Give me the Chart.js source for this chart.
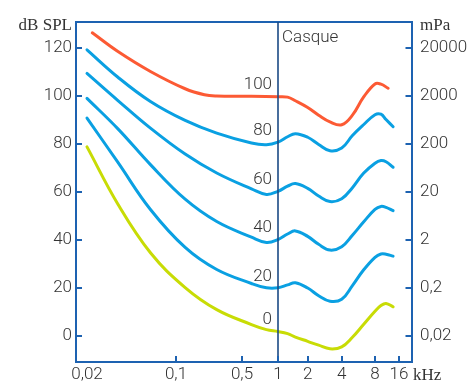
<!DOCTYPE html>
<html><head><meta charset="utf-8">
<script src="https://cdn.jsdelivr.net/npm/chart.js@4"></script>
<style>html,body{margin:0;padding:0;background:#fff}canvas{display:block}</style>
</head><body>
<canvas id="c" width="470" height="383"></canvas>
<script>
// ---------- data ----------
const FREQS = [0.02, 0.035, 0.063, 0.125, 0.27, 0.6, 0.8, 1, 1.25, 1.5, 2, 2.5, 3.15, 4, 5, 6.3, 8, 9.5, 11, 13.5];
const FREQS_100 = [0.022, 0.035, 0.063, 0.125, 0.2, 0.27, 0.6, 1, 1.25, 1.5, 2, 2.5, 3.15, 4, 5, 6.3, 8, 9.5, 11.7];
const PHON_100 = [126.3, 118.5, 110.2, 103.0, 100.5, 100.0, 99.9, 99.7, 99.5, 98.0, 95.2, 92.0, 89.2, 88.0, 92.0, 99.5, 105.0, 104.9, 103.2];
const PHON_80 = [119.2, 107.8, 97.7, 89.8, 84.5, 80.4, 79.7, 80.8, 83.0, 84.3, 82.8, 79.8, 77.2, 78.3, 83.5, 88.0, 92.2, 92.4, 90.2, 87.2];
const PHON_60 = [109.4, 98.1, 86.6, 75.8, 67.9, 61.3, 59.0, 60.3, 62.4, 63.5, 61.5, 58.3, 56.0, 57.2, 61.8, 67.8, 72.0, 73.1, 72.6, 70.3];
const PHON_40 = [99.0, 86.3, 71.4, 57.0, 47.7, 41.2, 39.0, 40.2, 42.5, 43.8, 41.5, 38.2, 35.8, 37.2, 42.0, 47.5, 52.8, 54.0, 53.6, 52.2];
const PHON_20 = [90.8, 72.3, 52.7, 36.9, 27.7, 21.9, 20.1, 20.1, 21.3, 22.2, 20.0, 16.8, 14.5, 15.3, 21.0, 27.5, 32.8, 34.2, 34.1, 33.3];
const PHON_0 = [78.8, 54.9, 34.7, 20.2, 11.0, 4.8, 2.7, 1.9, 1.0, -0.4, -2.2, -3.8, -5.3, -4.5, -0.5, 4.8, 10.3, 12.7, 13.6, 12.2];
const LEVEL_LABELS = ['100', '80', '60', '40', '20', '0'];

const X_TICKS = [0.02, 0.1, 0.5, 1, 2, 4, 8, 16];
const X_TICK_LABELS = ['0,02', '0,1', '0,5', '1', '2', '4', '8', '16'];
const Y_TICKS = [0, 20, 40, 60, 80, 100, 120];
const MPA_LABELS = ['0,02', '0,2', '2', '20', '200', '2000', '20000'];
const Y_MIN = -10.8, Y_MAX = 130.8;
const VLINE_FREQ = 1;

// ---------- style ----------
const AXIS = '#1d62b1', VLINE = '#1b4a85', BLUE = '#0aa0e2', ORANGE = '#fc5a34', YELLOW = '#c8dc05', TEXT = '#333333';
const FONT = 'Roboto, "Open Sans", sans-serif';
const SERIF = '"Roboto Slab", "Liberation Serif", serif';

// hand-drawn frequency axis: log interpolation between anchor frequencies
const X_ANCHORS = [0.0164, 0.02, 0.1, 0.5, 1, 2, 4, 8, 16, 22.96];
const X_ANCHOR_POS = [0, 11, 100, 166, 202, 231.7, 265.7, 299, 323, 335.5].map(p => p / 335.5);
function warp(f) {
  let i = 0;
  while (i < X_ANCHORS.length - 2 && f > X_ANCHORS[i + 1]) i++;
  const a = Math.log(X_ANCHORS[i]), b = Math.log(X_ANCHORS[i + 1]);
  return X_ANCHOR_POS[i] + (Math.log(f) - a) / (b - a) * (X_ANCHOR_POS[i + 1] - X_ANCHOR_POS[i]);
}
function unwarp(d) {
  let i = 0;
  while (i < X_ANCHOR_POS.length - 2 && d > X_ANCHOR_POS[i + 1]) i++;
  const a = Math.log(X_ANCHORS[i]), b = Math.log(X_ANCHORS[i + 1]);
  return Math.exp(a + (d - X_ANCHOR_POS[i]) / (X_ANCHOR_POS[i + 1] - X_ANCHOR_POS[i]) * (b - a));
}
class WarpedLogScale extends Chart.LinearScale {
  getPixelForValue(v) { return (v == null || isNaN(v)) ? NaN : this.getPixelForDecimal(warp(v)); }
  getValueForPixel(p) { return unwarp(this.getDecimalForPixel(p)); }
}
WarpedLogScale.id = 'warpedLog';
WarpedLogScale.defaults = {};
Chart.register(WarpedLogScale);

const pts = (fs, vs) => fs.map((f, i) => ({ x: f, y: vs[i] }));
const curves = [
  { f: FREQS_100, v: PHON_100, c: ORANGE },
  { f: FREQS, v: PHON_80, c: BLUE },
  { f: FREQS, v: PHON_60, c: BLUE },
  { f: FREQS, v: PHON_40, c: BLUE },
  { f: FREQS, v: PHON_20, c: BLUE },
  { f: FREQS, v: PHON_0, c: YELLOW }
];

const datasets = [{
  data: [{ x: VLINE_FREQ, y: Y_MIN }, { x: VLINE_FREQ, y: Y_MAX }],
  borderColor: VLINE, borderWidth: 1.6, pointRadius: 0, order: 0
}].concat(curves.map(k => ({
  data: pts(k.f, k.v), borderColor: k.c, borderWidth: 3, pointRadius: 0,
  tension: 0.4, borderCapStyle: 'round', borderJoinStyle: 'round', order: 1
})));

const decor = {
  id: 'decor',
  afterDatasetsDraw(chart) {
    const { ctx, chartArea: a, scales: { x, y } } = chart;
    ctx.save();
    ctx.strokeStyle = AXIS; ctx.lineWidth = 2;
    ctx.beginPath();
    X_TICKS.forEach((v, i) => {
      if (i === 0) return;
      const px = Math.round(x.getPixelForValue(v));
      ctx.moveTo(px, a.bottom); ctx.lineTo(px, a.bottom - 6);
    });
    Y_TICKS.forEach(v => {
      const py = Math.round(y.getPixelForValue(v));
      ctx.moveTo(a.left, py); ctx.lineTo(a.left + 6, py);
      ctx.moveTo(a.right, py); ctx.lineTo(a.right - 6, py);
    });
    ctx.stroke();
    ctx.fillStyle = TEXT;
    ctx.textBaseline = 'alphabetic';
    ctx.font = '300 17px ' + FONT;
    ctx.textAlign = 'right';
    const x1 = x.getPixelForValue(VLINE_FREQ);
    curves.forEach((k, i) => {
      const v1 = k.v[k.f.indexOf(1)];
      ctx.fillText(LEVEL_LABELS[i], x1 - 6, y.getPixelForValue(v1 + 3));
    });
    ctx.textAlign = 'left';
    ctx.fillText('Casque', x1 + 4, a.top + 19.5);
    ctx.font = '300 17px ' + SERIF;
    ctx.textAlign = 'right';
    ctx.fillText('dB SPL', a.left - 4, a.top + 8);
    ctx.textAlign = 'left';
    ctx.fillText('mPa', a.right + 8.5, a.top + 8);
    ctx.fillText('kHz', a.right + 1.5, a.bottom + 18);
    ctx.restore();
  }
};

const tickFont = { family: FONT, size: 17, weight: '300' };
new Chart(document.getElementById('c'), {
  type: 'line',
  data: { datasets },
  plugins: [decor],
  options: {
    responsive: false, animation: false, events: [],
    layout: { padding: { top: 22, left: 0, right: 0, bottom: 0 } },
    plugins: { legend: { display: false }, tooltip: { enabled: false } },
    scales: {
      x: {
        type: 'warpedLog', position: 'bottom', min: X_ANCHORS[0], max: X_ANCHORS[X_ANCHORS.length - 1],
        grid: { display: false, drawTicks: false },
        border: { color: AXIS, width: 2 },
        ticks: { autoSkip: false, maxRotation: 0, padding: 3, font: tickFont, color: TEXT,
          callback: (v, i) => X_TICK_LABELS[i] },
        afterBuildTicks: s => { s.ticks = X_TICKS.map(v => ({ value: v })); },
        afterFit: s => { s.height = 21; }
      },
      xTop: {
        type: 'linear', position: 'top', min: 0, max: 1,
        grid: { display: false, drawTicks: false },
        border: { color: AXIS, width: 2 },
        ticks: { display: false },
        afterFit: s => { s.height = 0; }
      },
      y: {
        type: 'linear', position: 'left', min: Y_MIN, max: Y_MAX,
        grid: { display: false, drawTicks: false },
        border: { color: AXIS, width: 2 },
        ticks: { padding: 4, font: tickFont, color: TEXT, callback: (v, i) => String(Y_TICKS[i]) },
        afterBuildTicks: s => { s.ticks = Y_TICKS.map(v => ({ value: v })); },
        afterFit: s => { s.width = 76; }
      },
      y2: {
        type: 'linear', position: 'right', min: Y_MIN, max: Y_MAX,
        grid: { display: false, drawTicks: false },
        border: { color: AXIS, width: 2 },
        ticks: { padding: 8.5, font: tickFont, color: TEXT, callback: (v, i) => MPA_LABELS[i] },
        afterBuildTicks: s => { s.ticks = Y_TICKS.map(v => ({ value: v })); },
        afterFit: s => { s.width = 58.5; }
      }
    }
  }
});
</script>
</body></html>
